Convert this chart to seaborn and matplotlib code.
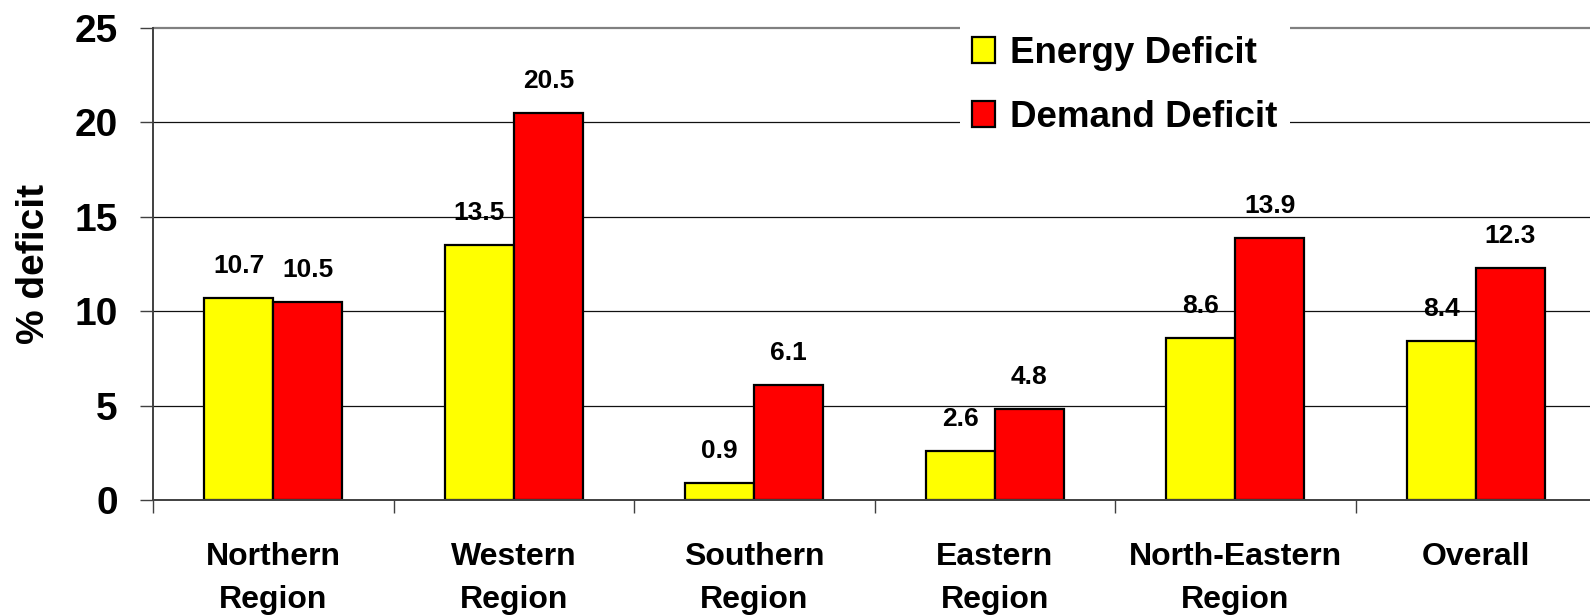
import matplotlib
matplotlib.use("Agg")
import matplotlib.pyplot as plt
import seaborn as sns
import pandas as pd
from matplotlib.ticker import FixedLocator

# Regional power deficit figures (%)
regions = ["Northern\nRegion", "Western\nRegion", "Southern\nRegion",
           "Eastern\nRegion", "North-Eastern\nRegion", "Overall"]
energy_deficit = [10.7, 13.5, 0.9, 2.6, 8.6, 8.4]
demand_deficit = [10.5, 20.5, 6.1, 4.8, 13.9, 12.3]
series_names = ["Energy Deficit", "Demand Deficit"]
y_ticks = [0, 5, 10, 15, 20, 25]

df = pd.DataFrame({
    "region": regions * 2,
    "deficit": energy_deficit + demand_deficit,
    "series": [series_names[0]] * len(regions) + [series_names[1]] * len(regions),
})

sns.set_theme(style="white")
plt.rcParams["font.family"] = ["Liberation Sans", "DejaVu Sans"]
plt.rcParams["font.weight"] = "bold"
for key in ["text.color", "axes.labelcolor", "xtick.labelcolor", "ytick.labelcolor"]:
    plt.rcParams[key] = "black"

W, H = 1590, 616
fig = plt.figure(figsize=(W / 100, H / 100), dpi=100)
x0, x1 = 153, 153 + 6 * 240.5
y0, y1 = 500, 28
ax = fig.add_axes([x0 / W, 1 - y0 / H, (x1 - x0) / W, (y0 - y1) / H])

sns.barplot(data=df, x="region", y="deficit", hue="series", order=regions,
            hue_order=series_names, palette=["#FFFF00", "#FF0000"],
            width=0.574, edgecolor="black", linewidth=1.6, saturation=1,
            ax=ax, zorder=3)

ax.set_xlim(-0.5, len(regions) - 0.5)
ax.set_ylim(0, 25)

# horizontal gridlines
for v in y_ticks[1:-1]:
    ax.axhline(v, color="#111111", lw=0.9, zorder=1)
ax.axhline(25, color="#808080", lw=1.6, zorder=1, clip_on=False)

for s in ["top", "right"]:
    ax.spines[s].set_visible(False)
for s in ["left", "bottom"]:
    ax.spines[s].set_color("#404040")
    ax.spines[s].set_linewidth(1.4)
    ax.spines[s].set_zorder(4)

ax.set_yticks(y_ticks)
ax.tick_params(axis="y", which="major", direction="out", length=9.4, width=1,
               color="#404040", pad=16, labelsize=28, left=True)
ax.tick_params(axis="x", which="major", length=0, pad=30, labelsize=23)
ax.xaxis.set_minor_locator(FixedLocator([i - 0.5 for i in range(len(regions) + 1)]))
ax.tick_params(axis="x", which="minor", direction="out", length=9.4, width=1,
               color="#404040", bottom=True)
for lab in ax.get_xticklabels():
    lab.set_linespacing(1.6)
    lab.set_fontweight("bold")
for lab in ax.get_yticklabels():
    lab.set_fontweight("bold")

ax.set_xlabel("")
ax.set_ylabel("% deficit", fontsize=28, fontweight="bold")
ax.yaxis.set_label_coords(-101 / (x1 - x0), 0.5)

for cont in ax.containers:
    ax.bar_label(cont, fmt="%.1f", padding=14.4, fontsize=19, fontweight="bold")

leg = ax.legend(loc="upper left", bbox_to_anchor=(960 / W, 1 - 24 / H),
                bbox_transform=fig.transFigure, frameon=True, facecolor="white",
                edgecolor="none", framealpha=1, fancybox=False,
                prop={"size": 26.5, "weight": "bold"}, handlelength=0.63,
                handleheight=0.7, handletextpad=0.4, labelspacing=0.78,
                borderpad=0.33, borderaxespad=0)
leg.set_zorder(5)
for h in leg.legend_handles:
    h.set_edgecolor("black")
    h.set_linewidth(1.6)

fig.savefig("out.png", dpi=100)
